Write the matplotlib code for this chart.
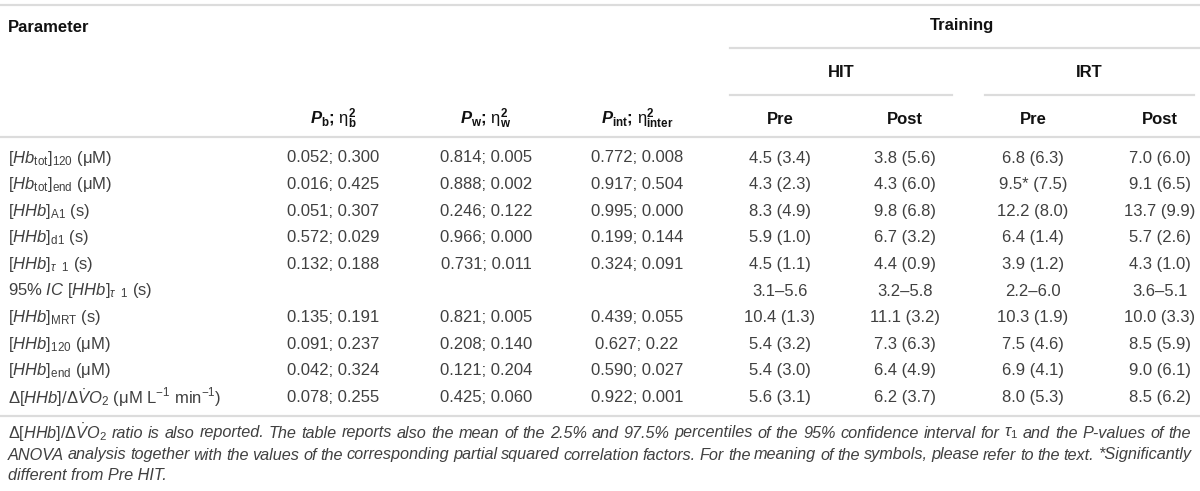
import matplotlib
matplotlib.use("Agg")
import matplotlib.pyplot as plt

plt.rcParams['font.family'] = ['Liberation Sans', 'DejaVu Sans']
plt.rcParams['mathtext.fontset'] = 'custom'
plt.rcParams['mathtext.rm'] = 'Liberation Sans'
plt.rcParams['mathtext.it'] = 'Liberation Sans:italic'
plt.rcParams['mathtext.bf'] = 'Liberation Sans:bold'
plt.rcParams['mathtext.bfit'] = 'Liberation Sans:bold:italic'

# ---------------- data ----------------
params = [
    r'$\mathit{[Hb}_{\mathrm{tot}}\mathit{]}_{\mathrm{120}}$ (μM)',
    r'$\mathit{[Hb}_{\mathrm{tot}}\mathit{]}_{\mathrm{end}}$ (μM)',
    r'$\mathit{[HHb]}_{\mathrm{A1}}$ (s)',
    r'$\mathit{[HHb]}_{\mathrm{d1}}$ (s)',
    r'$\mathit{[HHb]}_{\tau\ \ \mathrm{1}}$ (s)',
    r'95% $\mathit{IC\ [HHb]}_{\tau\ \ \mathrm{1}}$ (s)',
    r'$\mathit{[HHb]}_{\mathrm{MRT}}$ (s)',
    r'$\mathit{[HHb]}_{\mathrm{120}}$ (μM)',
    r'$\mathit{[HHb]}_{\mathrm{end}}$ (μM)',
    r'$\Delta\mathit{[HHb]/}\Delta\dot{\mathit{V}}\mathit{O}_{\mathrm{2}}$ (μM L$^{\mathrm{-1}}$ min$^{\mathrm{-1}}$)',
]
p_b = ['0.052; 0.300', '0.016; 0.425', '0.051; 0.307', '0.572; 0.029', '0.132; 0.188',
       '', '0.135; 0.191', '0.091; 0.237', '0.042; 0.324', '0.078; 0.255']
p_w = ['0.814; 0.005', '0.888; 0.002', '0.246; 0.122', '0.966; 0.000', '0.731; 0.011',
       '', '0.821; 0.005', '0.208; 0.140', '0.121; 0.204', '0.425; 0.060']
p_int = ['0.772; 0.008', '0.917; 0.504', '0.995; 0.000', '0.199; 0.144', '0.324; 0.091',
         '', '0.439; 0.055', '0.627; 0.22', '0.590; 0.027', '0.922; 0.001']
hit_pre = ['4.5 (3.4)', '4.3 (2.3)', '8.3 (4.9)', '5.9 (1.0)', '4.5 (1.1)',
           '3.1–5.6', '10.4 (1.3)', '5.4 (3.2)', '5.4 (3.0)', '5.6 (3.1)']
hit_post = ['3.8 (5.6)', '4.3 (6.0)', '9.8 (6.8)', '6.7 (3.2)', '4.4 (0.9)',
            '3.2–5.8', '11.1 (3.2)', '7.3 (6.3)', '6.4 (4.9)', '6.2 (3.7)']
irt_pre = ['6.8 (6.3)', '9.5* (7.5)', '12.2 (8.0)', '6.4 (1.4)', '3.9 (1.2)',
           '2.2–6.0', '10.3 (1.9)', '7.5 (4.6)', '6.9 (4.1)', '8.0 (5.3)']
irt_post = ['7.0 (6.0)', '9.1 (6.5)', '13.7 (9.9)', '5.7 (2.6)', '4.3 (1.0)',
            '3.6–5.1', '10.0 (3.3)', '8.5 (5.9)', '9.0 (6.1)', '8.5 (6.2)']

col_headers = [
    r'$\mathbfit{P}_{\mathbf{b}}$; $\mathrm{\eta}^{\mathbf{2}}_{\mathbf{b}}$',
    r'$\mathbfit{P}_{\mathbf{w}}$; $\mathrm{\eta}^{\mathbf{2}}_{\mathbf{w}}$',
    r'$\mathbfit{P}_{\mathbf{int}}$; $\mathrm{\eta}^{\mathbf{2}}_{\mathbf{inter}}$',
    'Pre', 'Post', 'Pre', 'Post',
]
caption_lines = [
    r'$\mathit{\Delta[HHb]/\Delta\dot{V}O}_{\mathrm{2}}$ ratio is also reported. The table reports also the mean of the 2.5% and 97.5% percentiles of the 95% confidence interval for $\mathit{\tau}_{\mathit{1}}$ and the P-values of the',
    'ANOVA analysis together with the values of the corresponding partial squared correlation factors. For the meaning of the symbols, please refer to the text. *Significantly',
    'different from Pre HIT.',
]

# ---------------- layout ----------------
W, H = 1200, 491
fig = plt.figure(figsize=(W / 100, H / 100), dpi=100)
ax = fig.add_axes([0, 0, 1, 1])
ax.set_xlim(0, W)
ax.set_ylim(H, 0)
ax.axis('off')

FS = 12.0
CFS = 11.7
BODY = '#404040'
HEAD = '#111111'
LINE = '#dcdcdc'

col_x = [333, 486, 637, 780, 905, 1033, 1160]
row_y0, row_dy = 158, 26.6

# rules
for y in (5, 137, 416):
    ax.plot([0, W], [y, y], color=LINE, lw=1.6, solid_capstyle='butt')
ax.plot([730, W], [48, 48], color=LINE, lw=1.6)
ax.plot([730, 952], [95, 95], color=LINE, lw=1.6)
ax.plot([985, 1194], [95, 95], color=LINE, lw=1.6)

# header texts
ax.text(8, 27, 'Parameter', fontsize=FS, fontweight='bold', color=HEAD, va='center', ha='left')
ax.text(962, 25, 'Training', fontsize=FS, fontweight='bold', color=HEAD, va='center', ha='center')
ax.text(841, 72, 'HIT', fontsize=FS, fontweight='bold', color=HEAD, va='center', ha='center')
ax.text(1089, 72, 'IRT', fontsize=FS, fontweight='bold', color=HEAD, va='center', ha='center')
for x, h in zip(col_x, col_headers):
    ax.text(x, 119, h, fontsize=FS, fontweight='bold', color=HEAD, va='center', ha='center')

# body
columns = [p_b, p_w, p_int, hit_pre, hit_post, irt_pre, irt_post]
for i, lab in enumerate(params):
    y = row_y0 + i * row_dy
    ax.text(8, y, lab, fontsize=FS, color=BODY, va='center', ha='left')
    for x, col in zip(col_x, columns):
        if col[i]:
            ax.text(x, y, col[i], fontsize=FS, color=BODY, va='center', ha='center')

# caption (justified)
fig.canvas.draw()
renderer = fig.canvas.get_renderer()
cap_y = [433, 455, 476]
left, right = 8, 1191
inv = ax.transData.inverted()
for k, line in enumerate(caption_lines):
    y = cap_y[k]
    if k == len(caption_lines) - 1:
        ax.text(left, y, line, fontsize=CFS, style='italic', color=BODY, va='center', ha='left')
        continue
    words = []
    cur = ''
    inmath = False
    for ch in line:
        if ch == '$':
            inmath = not inmath
        if ch == ' ' and not inmath:
            if cur:
                words.append(cur)
            cur = ''
        else:
            cur += ch
    if cur:
        words.append(cur)
    txts = [ax.text(0, y, w, fontsize=CFS, style='italic', color=BODY, va='center', ha='left') for w in words]
    widths = []
    for t in txts:
        bb = t.get_window_extent(renderer)
        x0 = inv.transform((bb.x0, bb.y0))[0]
        x1 = inv.transform((bb.x1, bb.y0))[0]
        widths.append(x1 - x0)
    gap = (right - left - sum(widths)) / (len(words) - 1)
    x = left
    for t, w in zip(txts, widths):
        t.set_x(x)
        x += w + gap

fig.savefig('out.png', dpi=100)
